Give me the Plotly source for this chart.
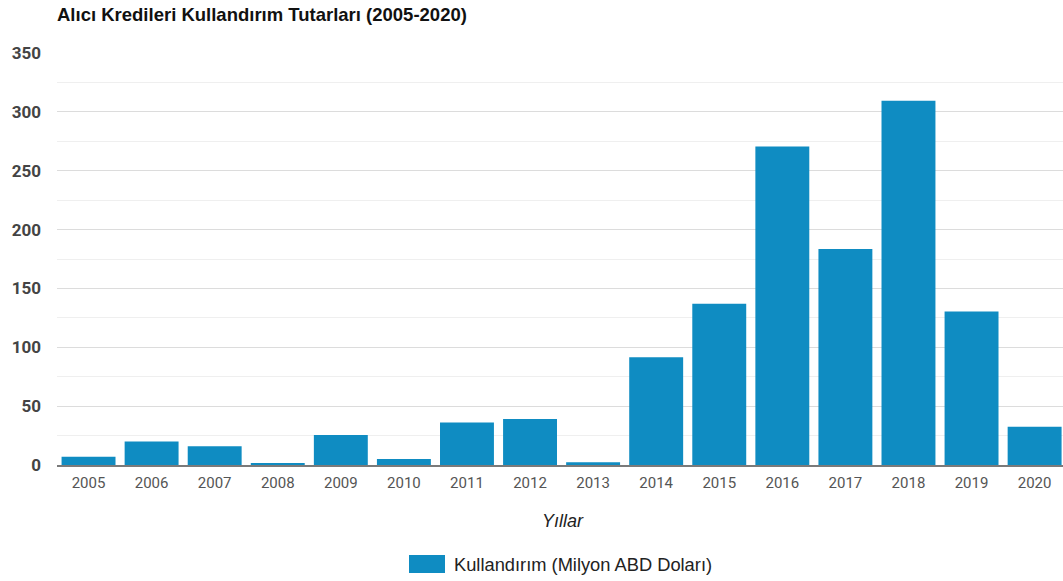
import plotly.graph_objects as go

# Annual buyer-credit disbursements (million USD)
years = ["2005", "2006", "2007", "2008", "2009", "2010", "2011", "2012",
         "2013", "2014", "2015", "2016", "2017", "2018", "2019", "2020"]
amounts = [7, 20, 16, 1, 25.5, 5, 36, 39, 2.3, 91.5, 137, 270.5, 183.5, 309.5, 130.5, 32.5]

series_name = "Kullandırım (Milyon ABD Doları)"
title_text = "Alıcı Kredileri Kullandırım Tutarları (2005-2020)"
x_title = "Yıllar"
y_ticks = [0, 50, 100, 150, 200, 250, 300, 350]

BAR_COLOR = "#0f8cc2"
W, H = 1063, 581
M_L, M_R, M_T, M_B = 57, 0, 53, 116
plot_w = W - M_L - M_R
plot_h = H - M_T - M_B


def px_to_paper_x(px):
    return (px - M_L) / plot_w


def px_to_paper_y(py):
    return (H - M_B - py) / plot_h


fig = go.Figure(
    go.Bar(
        x=years,
        y=amounts,
        name=series_name,
        marker=dict(color=BAR_COLOR, line=dict(width=0)),
        showlegend=False,
    )
)

fig.update_layout(
    width=W,
    height=H,
    margin=dict(l=M_L, r=M_R, t=M_T, b=M_B, pad=0),
    plot_bgcolor="white",
    paper_bgcolor="white",
    bargap=0.145,
    title=dict(
        text="<b>" + title_text + "</b>",
        x=57 / W,
        xanchor="left",
        xref="container",
        y=1 - 15 / H,
        yanchor="middle",
        yref="container",
        font=dict(family="Liberation Sans, Arial, sans-serif", size=18.5, color="#111"),
    ),
    xaxis=dict(
        type="category",
        range=[-0.5, 15.45],
        showgrid=False,
        showline=True,
        linecolor="#7a7a7a",
        linewidth=2,
        ticks="",
        tickfont=dict(family="Roboto, sans-serif", size=15, color="#555"),
        ticklabelstandoff=3,
    ),
    yaxis=dict(
        range=[0, 350],
        tickvals=y_ticks,
        showgrid=True,
        gridcolor="#dcdcdc",
        gridwidth=1,
        zeroline=False,
        minor=dict(dtick=25, tick0=0, showgrid=True, gridcolor="#efefef", gridwidth=1),
        tickfont=dict(family="Roboto, sans-serif", size=17, color="#444", weight="bold"),
        ticklabelstandoff=15,
    ),
    font=dict(family="Roboto, sans-serif"),
)

# Axis title
fig.add_annotation(
    text=x_title,
    xref="paper", yref="paper",
    x=px_to_paper_x(563), y=px_to_paper_y(521),
    xanchor="center", yanchor="middle",
    showarrow=False,
    font=dict(family="Liberation Sans, Arial, sans-serif", size=18, color="#222", style="italic"),
)

# Legend swatch and label
fig.add_shape(
    type="rect",
    xref="paper", yref="paper",
    x0=px_to_paper_x(409), x1=px_to_paper_x(445),
    y0=px_to_paper_y(573), y1=px_to_paper_y(555),
    fillcolor=BAR_COLOR, line=dict(width=0),
)
fig.add_annotation(
    text=series_name,
    xref="paper", yref="paper",
    x=px_to_paper_x(452), y=px_to_paper_y(564),
    xanchor="left", yanchor="middle",
    showarrow=False,
    font=dict(family="Liberation Sans, Arial, sans-serif", size=18.3, color="#222"),
)

fig.write_html("out.html")
